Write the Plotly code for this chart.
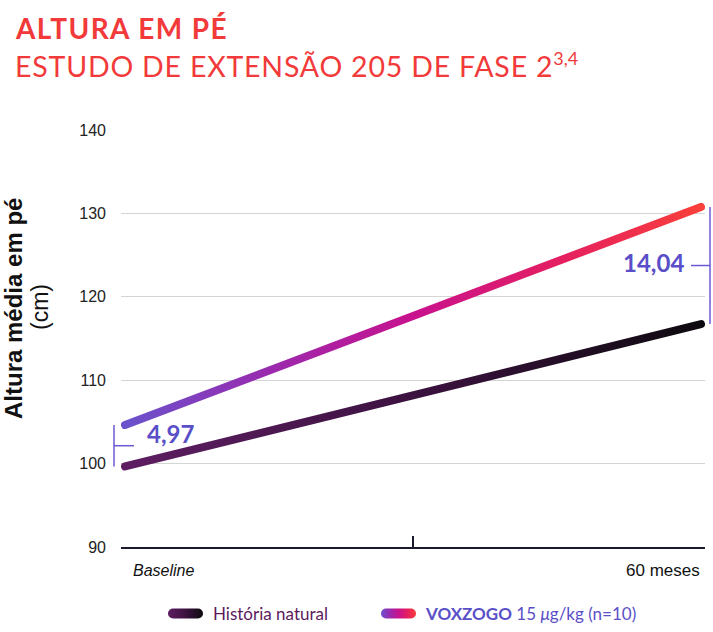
import plotly.graph_objects as go

# ---- data ----
timepoints = [0, 60]
x_labels = ["Baseline", "60 meses"]
natural_history = [99.66, 116.73]
voxzogo = [104.63, 130.77]
diff_labels = ["4,97", "14,04"]
y_ticks = [90, 100, 110, 120, 130, 140]

FONT = "Lato"
ARIAL = "Liberation Sans"
ACCENT = "#5a4fc8"

L, R, T, B = 121, 8, 130, 85
W, H = 713, 632
PW, PH = W - L - R, H - T - B

def xp(px):
    return (px - L) / PW

def yp(py):
    return (H - B - py) / PH

fig = go.Figure()
fig.add_trace(go.Scatter(
    x=timepoints, y=natural_history, mode="lines",
    line=dict(color="#3a1240", width=8),
    name="<span style='color:#5c1a5c'>História natural</span>",
))
fig.add_trace(go.Scatter(
    x=timepoints, y=voxzogo, mode="lines",
    line=dict(color="#c8168c", width=8),
    name="<span style='color:%s'><b>VOXZOGO</b> 15 <i>μ</i>g/kg (n=10)</span>" % ACCENT,
))

ann = []
# titles
ann.append(dict(text="<b><span style='letter-spacing:1.4px'>ALTURA EM PÉ</span></b>",
                x=xp(13), y=yp(28), xref="paper", yref="paper",
                xanchor="left", yanchor="middle", showarrow=False,
                font=dict(family=FONT, size=28, color="#f23a3a")))
ann.append(dict(text="<span style='letter-spacing:0.8px'>ESTUDO DE EXTENSÃO 205 DE FASE 2</span>"
                     "<sup><span style='font-size:18px'>3,4</span></sup>",
                x=xp(13), y=yp(65),
                xref="paper", yref="paper", xanchor="left", yanchor="middle", showarrow=False,
                font=dict(family=FONT, size=28.5, color="#f23a3a")))
# y-axis title (two lines)
ann.append(dict(text="<b>Altura média em pé</b>",
                x=xp(13), y=yp(309), xref="paper", yref="paper", textangle=-90,
                xanchor="center", yanchor="middle", showarrow=False,
                font=dict(family=ARIAL, size=24, color="#111111")))
ann.append(dict(text="(cm)",
                x=xp(40), y=yp(307), xref="paper", yref="paper", textangle=-90,
                xanchor="center", yanchor="middle", showarrow=False,
                font=dict(family=ARIAL, size=23, color="#111111")))
# x labels
ann.append(dict(text="<i>" + x_labels[0] + "</i>", x=timepoints[0], y=yp(570), xref="x", yref="paper",
                xanchor="left", yanchor="middle", xshift=6, showarrow=False,
                font=dict(family=ARIAL, size=16, color="#111111")))
ann.append(dict(text=x_labels[1], x=timepoints[1], y=yp(570), xref="x", yref="paper",
                xanchor="right", yanchor="middle", xshift=1, showarrow=False,
                font=dict(family=ARIAL, size=17, color="#111111")))
# difference labels
ann.append(dict(text="<b>" + diff_labels[0] + "</b>", x=timepoints[0], xshift=20, yshift=12,
                y=(natural_history[0] + voxzogo[0]) / 2, xref="x", yref="y",
                xanchor="left", yanchor="middle", showarrow=False,
                font=dict(family=FONT, size=24, color=ACCENT)))
ann.append(dict(text="<b>" + diff_labels[1] + "</b>", x=timepoints[1], xshift=-15, yshift=3,
                y=(natural_history[1] + voxzogo[1]) / 2, xref="x", yref="y",
                xanchor="right", yanchor="middle", showarrow=False,
                font=dict(family=FONT, size=24, color=ACCENT)))

shapes = []
bl = dict(color="#6a5ad2", width=1.5)
# left bracket
shapes.append(dict(type="line", xref="paper", yref="y", x0=xp(114), x1=xp(114),
                   y0=natural_history[0], y1=voxzogo[0], line=bl))
shapes.append(dict(type="line", xref="paper", yref="y", x0=xp(114), x1=xp(134),
                   y0=(natural_history[0] + voxzogo[0]) / 2, y1=(natural_history[0] + voxzogo[0]) / 2, line=bl))
# right bracket
shapes.append(dict(type="line", xref="paper", yref="y", x0=xp(710), x1=xp(710),
                   y0=natural_history[1], y1=voxzogo[1], line=bl))
shapes.append(dict(type="line", xref="paper", yref="y", x0=xp(691), x1=xp(710),
                   y0=(natural_history[1] + voxzogo[1]) / 2, y1=(natural_history[1] + voxzogo[1]) / 2, line=bl))
# middle tick on x axis
shapes.append(dict(type="line", xref="x", yref="paper", x0=30, x1=30, y0=yp(549), y1=yp(536),
                   line=dict(color="#1a1a2e", width=2)))

fig.update_layout(
    width=W, height=H,
    margin=dict(l=L, r=R, t=T, b=B, autoexpand=False),
    paper_bgcolor="white", plot_bgcolor="white",
    font=dict(family=FONT, size=15, color="#333333"),
    showlegend=True,
    legend=dict(orientation="h", x=xp(173), y=yp(614), xanchor="left", yanchor="middle",
                font=dict(family=FONT, size=17), entrywidth=168, entrywidthmode="pixels",
                itemwidth=30, bgcolor="rgba(0,0,0,0)"),
    annotations=ann, shapes=shapes,
    xaxis=dict(range=[-0.42, 60.42], showgrid=False, zeroline=False, showticklabels=False,
               showline=True, linecolor="#1a1a2e", linewidth=2, ticks="", automargin=False),
    yaxis=dict(range=[90, 140], tickvals=y_ticks, showgrid=True, gridcolor="#d4d4d4",
               gridwidth=1, zeroline=False, ticks="", ticklabelstandoff=14, automargin=False,
               tickfont=dict(family=ARIAL, size=16, color="#222222")),
)

post = """
document.body.style.margin = '0';
var gd = document.getElementById('{plot_id}');
var ns = 'http://www.w3.org/2000/svg';
var svg = gd.querySelector('svg.main-svg');
var defs = document.createElementNS(ns, 'defs');
svg.insertBefore(defs, svg.firstChild);
function grad(id, stops, user, x1, x2) {
  var g = document.createElementNS(ns, 'linearGradient');
  g.setAttribute('id', id);
  if (user) {
    g.setAttribute('gradientUnits', 'userSpaceOnUse');
    g.setAttribute('x1', x1); g.setAttribute('x2', x2);
    g.setAttribute('y1', 0); g.setAttribute('y2', 0);
  } else {
    g.setAttribute('x1', 0); g.setAttribute('x2', 1);
    g.setAttribute('y1', 0); g.setAttribute('y2', 0);
  }
  stops.forEach(function(s) {
    var st = document.createElementNS(ns, 'stop');
    st.setAttribute('offset', s[0]); st.setAttribute('stop-color', s[1]);
    g.appendChild(st);
  });
  defs.appendChild(g);
}
var natStops = [[0, '#5e1e62'], [0.5, '#3c1240'], [1, '#0d0a0f']];
var voxStops = [[0, '#6a52cc'], [0.25, '#9a2aae'], [0.5, '#c8128e'], [0.75, '#e41e62'], [1, '#f9403a']];
grad('gNat', natStops, false);
grad('gVox', voxStops, false);
grad('gNatL', natStops, true, -5, 30);
grad('gVoxL', voxStops, true, -5, 30);
var lines = gd.querySelectorAll('.scatterlayer .trace path.js-line');
if (lines[0]) { lines[0].style.setProperty('stroke', 'url(#gNat)'); lines[0].style.setProperty('stroke-linecap', 'round'); }
if (lines[1]) { lines[1].style.setProperty('stroke', 'url(#gVox)'); lines[1].style.setProperty('stroke-linecap', 'round'); }
var sb = gd.querySelector('.legend .scrollbox');
if (sb) { sb.removeAttribute('clip-path'); }
var leg = gd.querySelectorAll('.legend .traces');
var ids = ['gNatL', 'gVoxL'];
leg.forEach(function(t, i) {
  var p = t.querySelector('path.js-line');
  if (p) {
    p.setAttribute('d', 'M0,0h25');
    p.style.setProperty('stroke', 'url(#' + ids[i] + ')');
    p.style.setProperty('stroke-linecap', 'round');
    p.style.setProperty('stroke-width', '10px');
  }
});
"""

fig.write_html("out.html", post_script=post, config={"displayModeBar": False})
